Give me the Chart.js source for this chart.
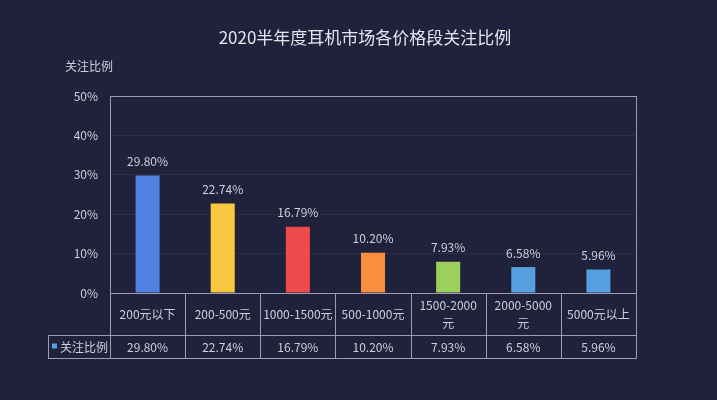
<!DOCTYPE html>
<html>
<head>
<meta charset="utf-8">
<script src="https://cdn.jsdelivr.net/npm/chart.js@4"></script>
<style>
  html, body { margin: 0; padding: 0; background: #20213a; }
  #wrap { width: 717px; height: 400px; }
</style>
</head>
<body>
<div id="wrap"><canvas id="chart" width="717" height="400"></canvas></div>
<script>
const TITLE = '2020半年度耳机市场各价格段关注比例';
const SERIES_NAME = '关注比例';
const categories = ['200元以下', '200-500元', '1000-1500元', '500-1000元', ['1500-2000', '元'], ['2000-5000', '元'], '5000元以上'];
const values = [29.80, 22.74, 16.79, 10.20, 7.93, 6.58, 5.96];
const barColors = ['#4f80e2', '#f9c841', '#ee4c4c', '#f98e3f', '#9dcf5b', '#56a0e0', '#56a0e0'];
const yTicks = [0, 10, 20, 30, 40, 50];

const FONT = '"Noto Sans CJK SC", "Noto Sans", sans-serif';
const BG = '#20213a';
const LINE = '#9c9cba';
const TEXT = '#cfcfdc';

const tablePlugin = {
  id: 'table',
  beforeDraw(chart) {
    const c = chart.ctx;
    c.save();
    c.fillStyle = BG;
    c.fillRect(0, 0, chart.width, chart.height);
    c.restore();
  },
  afterDraw(chart) {
    const c = chart.ctx;
    const area = chart.chartArea;
    const x = chart.scales.x;
    const row1 = area.bottom + 42;
    const row2 = row1 + 23;
    const legendLeft = 48;
    const half = (x.getPixelForValue(1) - x.getPixelForValue(0)) / 2;

    c.save();
    // title
    c.fillStyle = '#e4e4ee';
    c.font = '17px ' + FONT;
    c.textAlign = 'center';
    c.textBaseline = 'middle';
    c.fillText(TITLE, 365, 38);

    // y axis name
    c.fillStyle = TEXT;
    c.font = '12px ' + FONT;
    c.textAlign = 'left';
    c.fillText(SERIES_NAME, 65, 66);

    // frame
    c.strokeStyle = LINE;
    c.lineWidth = 1;
    c.beginPath();
    c.moveTo(area.left + 0.5, area.top);
    c.lineTo(area.left + 0.5, row2 + 0.5);
    c.moveTo(area.right + 0.5, area.top);
    c.lineTo(area.right + 0.5, row2 + 0.5);
    c.moveTo(legendLeft + 0.5, row1 + 0.5);
    c.lineTo(legendLeft + 0.5, row2 + 0.5);
    c.moveTo(legendLeft, row1 + 0.5);
    c.lineTo(area.right, row1 + 0.5);
    c.moveTo(legendLeft, row2 + 0.5);
    c.lineTo(area.right + 1, row2 + 0.5);
    for (let i = 1; i < categories.length; i++) {
      const px = Math.round(x.getPixelForValue(i) - half) + 0.5;
      c.moveTo(px, area.bottom);
      c.lineTo(px, row2);
    }
    c.stroke();

    // cells
    c.textAlign = 'center';
    c.textBaseline = 'middle';
    categories.forEach((cat, i) => {
      const px = x.getPixelForValue(i);
      const lines = Array.isArray(cat) ? cat : [cat];
      const mid = (area.bottom + row1) / 2;
      lines.forEach((t, j) => {
        c.fillText(t, px, mid + (j - (lines.length - 1) / 2) * 18);
      });
      c.fillText(values[i].toFixed(2) + '%', px, (row1 + row2) / 2 + 1);
    });

    // legend cell
    c.fillStyle = barColors[6];
    c.fillRect(52, (row1 + row2) / 2 - 3, 5, 5);
    c.fillStyle = TEXT;
    c.textAlign = 'left';
    c.fillText(SERIES_NAME, 60, (row1 + row2) / 2 + 1);

    // value labels above bars
    const meta = chart.getDatasetMeta(0);
    c.textAlign = 'center';
    c.textBaseline = 'bottom';
    meta.data.forEach((bar, i) => {
      c.fillText(values[i].toFixed(2) + '%', bar.x, bar.y - 8);
    });
    c.restore();
  }
};

new Chart(document.getElementById('chart'), {
  type: 'bar',
  data: {
    labels: categories,
    datasets: [{
      label: SERIES_NAME,
      data: values,
      backgroundColor: barColors,
      barPercentage: 0.32,
      categoryPercentage: 1
    }]
  },
  options: {
    responsive: false,
    animation: false,
    devicePixelRatio: 1,
    layout: { padding: { left: 0, right: 81, top: 96, bottom: 107 } },
    plugins: { legend: { display: false }, tooltip: { enabled: false }, title: { display: false } },
    scales: {
      x: {
        afterFit: s => { s.height = 0; },
        ticks: { display: false },
        grid: { display: false },
        border: { display: true, color: LINE }
      },
      y: {
        min: 0,
        max: 50,
        afterBuildTicks: s => { s.ticks = yTicks.map(v => ({ value: v })); },
        afterFit: s => { s.width = 110; },
        ticks: {
          color: TEXT,
          padding: 12,
          font: { family: FONT, size: 12 },
          callback: v => v + '%'
        },
        grid: {
          drawTicks: false,
          color: ctx => ctx.tick && ctx.tick.value === 50 ? LINE : 'rgba(255,255,255,0.06)'
        },
        border: { display: false }
      }
    }
  },
  plugins: [tablePlugin]
});
</script>
</body>
</html>
